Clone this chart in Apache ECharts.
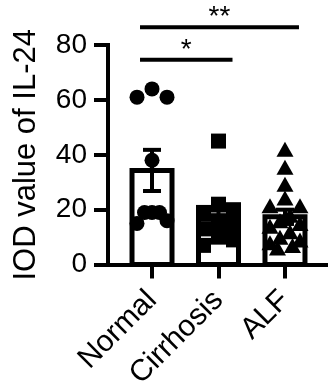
<!DOCTYPE html>
<html><head><meta charset="utf-8">
<script src="https://cdn.jsdelivr.net/npm/echarts@6/dist/echarts.min.js"></script>
<style>html,body{margin:0;padding:0;background:#fff}#c{width:328px;height:392px}</style>
</head><body><div id="c"></div>
<script>
// ---- data ----
const categories = ['Normal', 'Cirrhosis', 'ALF'];
const normalValues = [64, 61, 61, 38, 19, 19, 19, 16, 15];
const cirrhosisValues = [45, 22, 20, 19, 16, 14, 13, 10, 9, 7];
const alfValues = [42, 35.5, 29.3, 24.3, 21.4, 21.4, 18, 16, 15, 14, 12, 10, 9, 8, 7, 6];
const groupMeans = [34.3, 16.5, 17.4];
const groupSems = [7.5, 3.2, 2.6];
const yTickValues = [0, 20, 40, 60, 80];
const compFrom = [0, 0];
const compTo = [1, 2];
const compLevel = [74.6, 86.5];
const compLabel = ['*', '**'];
const yAxisTitle = 'IOD value of IL-24';

// ---- styling ----
const FONT = "'Liberation Sans', Arial, sans-serif";
const groups = [normalValues, cirrhosisValues, alfValues];
const symbols = ['circle', 'rect', 'triangle'];
const symbolSizes = [15, 15, [17, 15]];
const catIdx = categories.map((c, i) => i);

const chart = echarts.init(document.getElementById('c'), null, {renderer: 'canvas'});

const baseOption = {
  animation: false,
  backgroundColor: '#fff',
  grid: {left: 108, right: 0, top: 45, bottom: 126, containLabel: false},
  xAxis: {
    type: 'value', min: -0.662, max: 2.647,
    splitLine: {show: false},
    axisLine: {show: true, onZero: false, lineStyle: {color: '#000', width: 4}},
    axisTick: {show: true, customValues: catIdx, length: 14, lineStyle: {color: '#000', width: 4}},
    axisLabel: {show: true, customValues: catIdx, formatter: v => categories[Math.round(v)],
      rotate: 45, fontSize: 30, color: '#000', fontFamily: FONT, margin: 31}
  },
  yAxis: {
    type: 'value', min: yTickValues[0], max: yTickValues[yTickValues.length - 1], interval: 20,
    splitLine: {show: false},
    axisLine: {show: true, onZero: false, lineStyle: {color: '#000', width: 4, cap: 'square'}},
    axisTick: {show: true, length: 14, lineStyle: {color: '#000', width: 4}},
    axisLabel: {fontSize: 28, color: '#000', fontFamily: FONT, margin: 21},
    name: yAxisTitle, nameLocation: 'middle', nameGap: 66, nameRotate: 90,
    nameTextStyle: {fontSize: 31, color: '#000', fontFamily: FONT}
  },
  series: []
};
chart.setOption(baseOption);

// pixel scales from the library, used for a deterministic beeswarm layout
const px0 = chart.convertToPixel({xAxisIndex: 0}, 0);
const px1 = chart.convertToPixel({xAxisIndex: 0}, 1);
const py0 = chart.convertToPixel({yAxisIndex: 0}, 0);
const py1 = chart.convertToPixel({yAxisIndex: 0}, 1);
const pxPerX = px1 - px0;
const pxPerY = Math.abs(py1 - py0);

function swarm(values, gi) {
  const SP = 15, MAXW = 30, TH = 12;
  const sorted = values.slice().sort((a, b) => b - a);
  const out = [];
  let i = 0;
  while (i < sorted.length) {
    const grp = [sorted[i]];
    let j = i + 1;
    while (j < sorted.length && (sorted[i] - sorted[j]) * pxPerY < TH) { grp.push(sorted[j]); j++; }
    const n = grp.length;
    const sp = n > 1 ? Math.min(SP, MAXW / (n - 1)) : 0;
    const pos = [];
    for (let k = 0; k < n; k++) pos.push((k - (n - 1) / 2) * sp);
    pos.sort((a, b) => Math.abs(a) - Math.abs(b) || b - a);
    grp.forEach((v, k) => out.push([gi + pos[k] / pxPerX, v]));
    i = j;
  }
  return out;
}

const barSeries = {
  type: 'custom', z: 1,
  data: catIdx.map(i => [i, groupMeans[i]]),
  renderItem: (params, api) => {
    const top = api.coord([api.value(0), api.value(1)]);
    const bot = api.coord([api.value(0), 0]);
    const w = 40;
    return {type: 'rect', shape: {x: top[0] - w / 2, y: top[1], width: w, height: bot[1] - top[1]},
      style: {fill: '#fff', stroke: '#000', lineWidth: 5}};
  }
};

const errSeries = {
  type: 'custom', z: 2,
  data: catIdx.map(i => [i, groupMeans[i] - groupSems[i], groupMeans[i] + groupSems[i]]),
  renderItem: (params, api) => {
    const lo = api.coord([api.value(0), api.value(1)]);
    const hi = api.coord([api.value(0), api.value(2)]);
    const cw = 9;
    const st = {stroke: '#000', lineWidth: 4};
    return {type: 'group', children: [
      {type: 'line', shape: {x1: lo[0], y1: lo[1], x2: hi[0], y2: hi[1]}, style: st},
      {type: 'line', shape: {x1: hi[0] - cw, y1: hi[1], x2: hi[0] + cw, y2: hi[1]}, style: st},
      {type: 'line', shape: {x1: lo[0] - cw, y1: lo[1], x2: lo[0] + cw, y2: lo[1]}, style: st}
    ]};
  }
};

const pointSeries = groups.map((vals, gi) => ({
  type: 'scatter', z: 3, symbol: symbols[gi], symbolSize: symbolSizes[gi],
  itemStyle: {color: '#000', opacity: 1},
  data: swarm(vals, gi)
}));

const sigSeries = {
  type: 'custom', z: 4, clip: false,
  data: compLevel.map((lv, k) => [compFrom[k], compTo[k], lv, k]),
  renderItem: (params, api) => {
    const a = api.coord([api.value(0), api.value(2)]);
    const b = api.coord([api.value(1), api.value(2)]);
    const k = api.value(3);
    const x1 = a[0] - 12, x2 = b[0] + 14;
    return {type: 'group', children: [
      {type: 'line', shape: {x1: x1, y1: a[1], x2: x2, y2: a[1]}, style: {stroke: '#000', lineWidth: 4}},
      {type: 'text', style: {text: compLabel[k], x: (x1 + x2) / 2, y: a[1] - 10, align: 'center',
        verticalAlign: 'middle', fontSize: 28, fontFamily: FONT, fill: '#000'}}
    ]};
  }
};

chart.setOption({series: [barSeries, errSeries].concat(pointSeries).concat([sigSeries])});
</script></body></html>
